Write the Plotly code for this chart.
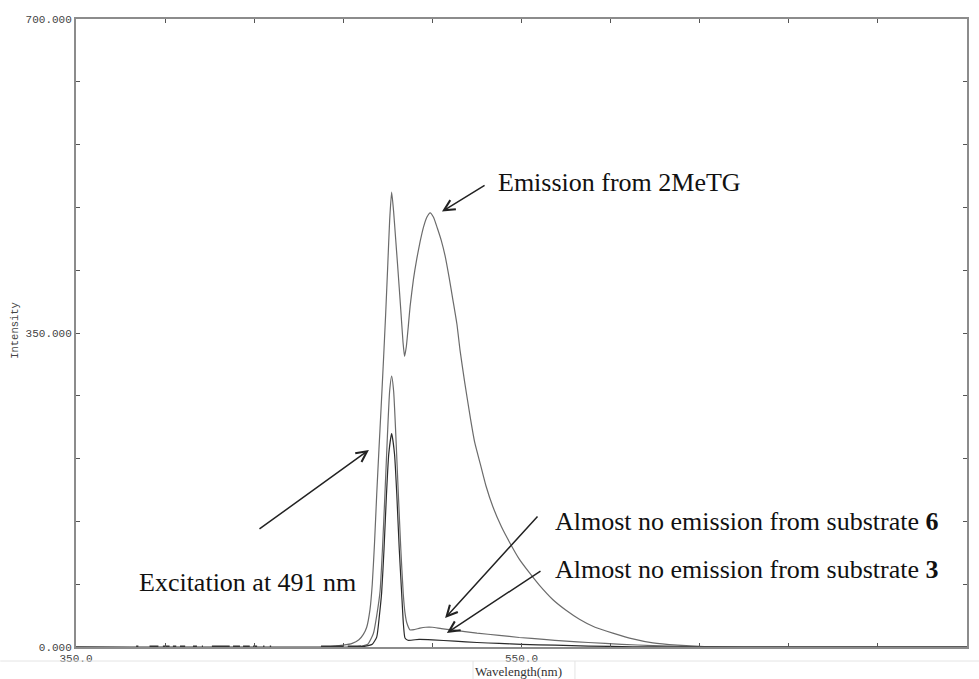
import plotly.graph_objects as go

# ---------------- data ----------------
wl_2metg = [350, 462, 466, 470, 474, 477, 479, 480.5, 482, 483, 484, 485, 486, 487, 488, 489, 490,
            490.8, 491.7, 492.6, 493.5, 494.4, 495.8, 496.8, 497.5, 498.3, 499.2, 500, 501.5, 503,
            504.5, 506, 507.5, 509, 510.5, 512.2, 514, 515.7, 517.5, 519.2, 521, 522.4, 524.5, 527,
            529, 531.4, 534, 537.2, 541, 544.8, 549, 553.8, 558, 564, 570, 576, 583, 591, 600, 609,
            620, 632, 650, 750]
int_2metg = [0, 0, 1, 2, 4, 8, 14, 22, 42, 70, 115, 170, 220, 268, 318, 370, 428,
             475, 507, 485, 455, 425, 376, 340, 324, 335, 358, 380, 410, 433,
             452, 468, 479, 484, 479, 467, 453, 436, 412, 387, 360, 331, 295, 256,
             228, 205, 180, 156, 134, 116, 98, 82, 69, 53, 41, 31, 22, 15.5, 9, 4.5,
             2, 0.5, 0, 0]

wl_sub6 = [350, 474, 478, 481, 483.5, 485, 486.5, 487.6, 488.7, 489.8, 490.8, 491.7, 492.6, 493.6,
           494.7, 495.8, 496.9, 497.7, 498.5, 500, 502, 504.4, 507, 510, 514, 519, 530, 540, 549,
           560, 570, 580, 595, 609, 625, 640, 750]
int_sub6 = [0, 0, 1, 3, 15, 35, 62, 110, 171, 235, 285, 302, 285, 235,
            171, 110, 60, 38, 27, 19, 19.5, 21, 22, 22, 20.5, 19, 15.5, 13, 10.6,
            8.5, 6.5, 5, 3, 1.5, 0.5, 0, 0]

wl_sub3 = [350, 476, 480, 483, 485, 486.2, 487.2, 488.3, 489.4, 490.4, 491.7, 493, 494, 495.1,
           496.2, 497, 497.7, 499, 504, 510, 520, 530, 540, 550, 565, 580, 600, 620, 750]
int_sub3 = [0, 0, 1, 3, 11, 35, 60, 110, 171, 215, 238, 215, 171, 110,
            60, 25, 10, 7.5, 8.5, 8, 6.5, 5, 4, 3, 2, 1, 0.3, 0, 0]

# small baseline noise segments (start, end) in nm, near zero intensity
noise_start = [377, 383, 389, 393.5, 396.7, 402.5, 406.5, 411, 420.5, 425, 429.5, 434, 437, 460, 472]
noise_end = [378, 387, 392, 395, 399, 404.3, 407, 419, 423.6, 428, 431.3, 434.6, 437.6, 470, 478]
noise_level = 0.8

x_tickvals = [350, 390, 430, 470, 510, 550, 590, 630, 670, 710, 750]
x_ticktext = ["350.0", "", "", "", "", "550.0", "", "", "", "", "750.0"]
y_tickvals = [0, 70, 140, 210, 280, 350, 420, 490, 560, 630, 700]
y_ticktext = ["0.000", "", "", "", "", "350.000", "", "", "", "", "700.000"]

# ---------------- figure ----------------
fig = go.Figure()

fig.add_trace(go.Scatter(x=wl_2metg, y=int_2metg, mode="lines", name="2MeTG",
                         line=dict(color="#6b6b6b", width=1.2, shape="spline", smoothing=0.5)))
fig.add_trace(go.Scatter(x=wl_sub6, y=int_sub6, mode="lines", name="Substrate 6",
                         line=dict(color="#6b6b6b", width=1.2, shape="spline", smoothing=0.5)))
fig.add_trace(go.Scatter(x=wl_sub3, y=int_sub3, mode="lines", name="Substrate 3",
                         line=dict(color="#2a2a2a", width=1.2, shape="spline", smoothing=0.5)))

nx, ny = [], []
for s, e in zip(noise_start, noise_end):
    nx += [s, e, None]
    ny += [noise_level, noise_level, None]
fig.add_trace(go.Scatter(x=nx, y=ny, mode="lines", name="baseline", connectgaps=False,
                         line=dict(color="#333333", width=1.6)))

mono = "Liberation Mono"
serif = "Liberation Serif"

fig.update_layout(
    width=979, height=679,
    margin=dict(l=76, r=12, t=19, b=32, autoexpand=False),
    paper_bgcolor="white", plot_bgcolor="white",
    showlegend=False,
    xaxis=dict(range=[350, 750], tickvals=x_tickvals, ticktext=x_ticktext, automargin=False,
               ticks="inside", ticklen=4, tickwidth=1, tickcolor="#555",
               showline=True, linecolor="#8c8c8c", linewidth=2, mirror="ticks",
               showgrid=False, zeroline=False,
               tickfont=dict(family=mono, size=11, color="#444")),
    yaxis=dict(range=[0, 700], tickvals=y_tickvals, ticktext=y_ticktext, automargin=False,
               ticks="inside", ticklen=4, tickwidth=1, tickcolor="#555",
               showline=True, linecolor="#8c8c8c", linewidth=2, mirror="ticks",
               showgrid=False, zeroline=False,
               tickfont=dict(family=mono, size=11, color="#444")),
)

# axis titles as annotations
fig.add_annotation(text="Intensity", xref="paper", yref="paper", x=-0.0685, y=0.505,
                   xanchor="center", yanchor="middle",
                   textangle=-90, showarrow=False, font=dict(family=mono, size=10.5, color="#444"))
fig.add_annotation(text="Wavelength(nm)", xref="paper", yref="paper", x=0.497, y=-0.0385,
                   xanchor="center", yanchor="middle",
                   showarrow=False, font=dict(family=serif, size=13, color="#333"))

# faint frame below the axis (scan artefact)
fig.add_shape(type="line", xref="paper", yref="paper", x0=-0.085, x1=1.0135, y0=-0.0223, y1=-0.0223,
              line=dict(color="#e4e4e4", width=1))
for xp in [0.4456, 0.56]:
    fig.add_shape(type="line", xref="paper", yref="paper", x0=xp, x1=xp, y0=-0.0223, y1=-0.06,
                  line=dict(color="#e4e4e4", width=1))

# text labels
tfont = dict(family=serif, size=26, color="#111")
fig.add_annotation(text="Emission from 2MeTG", xref="paper", yref="paper", x=0.4714, y=0.7389,
                   xanchor="left", yanchor="middle", showarrow=False, font=tfont)
fig.add_annotation(text="Excitation at 491 nm", xref="paper", yref="paper", x=0.0685, y=0.1035,
                   xanchor="left", yanchor="middle", showarrow=False, font=tfont)
fig.add_annotation(text="Almost no emission from substrate <b>6</b>", xref="paper", yref="paper",
                   x=0.5354, y=0.2000, xanchor="left", yanchor="middle", showarrow=False, font=tfont)
fig.add_annotation(text="Almost no emission from substrate <b>3</b>", xref="paper", yref="paper",
                   x=0.5354, y=0.1230, xanchor="left", yanchor="middle", showarrow=False, font=tfont)

# arrows (head x,y ; tail ax,ay) in data coordinates
arrows = [
    (514.3, 485.4, 534.1, 515.5),
    (481.5, 219.6, 431.7, 130.4),
    (515.7, 32.3, 557.8, 147.1),
    (516.5, 15.6, 559.2, 85.8),
]
for hx, hy, tx, ty in arrows:
    fig.add_annotation(x=hx, y=hy, ax=tx, ay=ty, xref="x", yref="y", axref="x", ayref="y",
                       text="", showarrow=True, arrowhead=5, arrowsize=1.4, arrowwidth=1.5,
                       arrowcolor="#222")

fig.write_html("out.html", config={"displayModeBar": False},
               post_script="document.body.style.margin='0px';document.body.style.padding='0px';")
